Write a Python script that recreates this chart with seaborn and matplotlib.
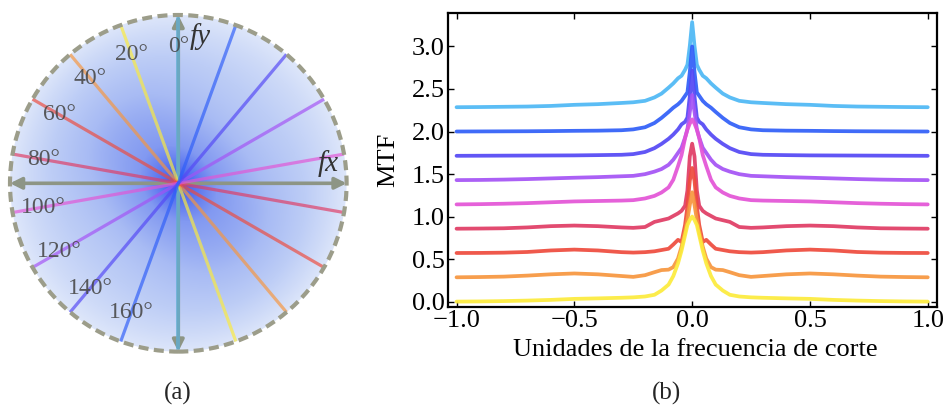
import numpy as np
import pandas as pd
import matplotlib
matplotlib.use("Agg")
import matplotlib.pyplot as plt
from matplotlib.patches import Circle, FancyArrowPatch
from matplotlib.colors import LinearSegmentedColormap
import seaborn as sns

# ---------------- data ----------------
angles = [0, 20, 40, 60, 80, 100, 120, 140, 160]          # cut directions (deg)
angle_labels = ["0°", "20°", "40°", "60°", "80°", "100°", "120°", "140°", "160°"]
colors = {0: "#4DB8F5", 20: "#FCEB3C", 40: "#F7963E", 60: "#EE4B3D", 80: "#E03C64",
          100: "#E354D6", 120: "#A452F5", 140: "#5448F5", 160: "#2F5EF8"}
stack_order = [20, 40, 60, 80, 100, 120, 140, 160, 0]      # bottom -> top
offset_step = 2.0 / 7.0

# half profile frequencies (units of cutoff) and normalised MTF for each cut
freq_half = [0.0, 0.01, 0.02, 0.03, 0.045, 0.06, 0.08, 0.10, 0.13, 0.16,
             0.20, 0.25, 0.30, 0.40, 0.50, 0.60, 0.70, 0.80, 0.90, 1.00]
mtf_0 = [1.0, 0.72, 0.50, 0.44, 0.37, 0.34, 0.28, 0.23, 0.16, 0.115,
         0.075, 0.058, 0.05, 0.036, 0.028, 0.015, 0.008, 0.005, 0.002, 0.0]
mtf_20 = [1.0, 0.96, 0.90, 0.78, 0.60, 0.45, 0.30, 0.20, 0.13, 0.08,
          0.06, 0.05, 0.045, 0.038, 0.032, 0.02, 0.012, 0.006, 0.002, 0.0]
mtf_40 = [1.0, 0.85, 0.68, 0.54, 0.36, 0.22, 0.12, 0.09, 0.085, 0.06,
          0.025, 0.005, 0.015, 0.035, 0.045, 0.035, 0.02, 0.008, 0.003, 0.0]
mtf_60 = [1.0, 0.85, 0.55, 0.33, 0.13, 0.155, 0.10, 0.05, 0.035, 0.02,
          0.01, 0.005, 0.01, 0.03, 0.04, 0.03, 0.012, 0.004, 0.001, 0.0]
mtf_80 = [1.0, 0.85, 0.45, 0.27, 0.21, 0.18, 0.15, 0.12, 0.10, 0.08,
          0.02, 0.01, 0.015, 0.03, 0.037, 0.03, 0.015, 0.005, 0.002, 0.0]
mtf_100 = [1.0, 0.95, 0.88, 0.78, 0.58, 0.45, 0.29, 0.20, 0.14, 0.10,
           0.07, 0.05, 0.045, 0.04, 0.035, 0.025, 0.015, 0.008, 0.003, 0.0]
mtf_120 = [1.0, 0.80, 0.60, 0.50, 0.38, 0.32, 0.24, 0.18, 0.13, 0.10,
           0.07, 0.05, 0.045, 0.035, 0.028, 0.02, 0.012, 0.006, 0.002, 0.0]
mtf_140 = [1.0, 0.70, 0.45, 0.40, 0.37, 0.31, 0.25, 0.20, 0.14, 0.09,
           0.045, 0.02, 0.012, 0.008, 0.005, 0.004, 0.003, 0.002, 0.001, 0.0]
mtf_160 = [1.0, 0.70, 0.46, 0.42, 0.36, 0.32, 0.28, 0.23, 0.16, 0.10,
           0.05, 0.025, 0.015, 0.01, 0.008, 0.005, 0.003, 0.002, 0.001, 0.0]
mtf = {0: mtf_0, 20: mtf_20, 40: mtf_40, 60: mtf_60, 80: mtf_80,
       100: mtf_100, 120: mtf_120, 140: mtf_140, 160: mtf_160}

xticks = [-1.0, -0.5, 0.0, 0.5, 1.0]
yticks = [0.0, 0.5, 1.0, 1.5, 2.0, 2.5, 3.0]

# ---------------- style ----------------
sns.set_theme(style="white")
plt.rcParams["font.family"] = ["Liberation Serif", "DejaVu Serif"]

W, H = 946, 409
fig = plt.figure(figsize=(W / 100, H / 100), dpi=100)

# ---------------- panel (a) ----------------
cx, cy, R = 178.3, 183.3, 168.3
half = 175.0
L = half / R
axa = fig.add_axes([(cx - half) / W, 1 - (cy + half) / H, 2 * half / W, 2 * half / H])
axa.set_xlim(-L, L)
axa.set_ylim(-L, L)
axa.axis("off")

g = np.linspace(-1, 1, 401)
GX, GY = np.meshgrid(g, g)
RR = np.hypot(GX, GY)
TH = np.arctan2(GY, GX)
field = RR + 0.10 * np.sin(2 * TH) * np.exp(-((RR - 0.55) / 0.28) ** 2)
bg_cmap = LinearSegmentedColormap.from_list(
    "bg", [(0.0, "#2E48EE"), (0.07, "#4E6AF0"), (0.22, "#8299F1"),
           (0.5, "#A8BBF4"), (0.75, "#BDCDF6"), (0.9, "#CFDBF8"), (1.0, "#DDE6FA")])
im = axa.imshow(np.clip(field, 0, 1), cmap=bg_cmap, vmin=0, vmax=1,
                extent=(-1, 1, -1, 1), origin="lower", interpolation="bilinear", zorder=0)
clip = Circle((0, 0), 1.0, transform=axa.transData)
im.set_clip_path(clip)

gray = "#8D9585"
for (p0, p1) in [((-1, 0), (1, 0)), ((0, -1), (0, 1))]:
    arr = FancyArrowPatch(p0, p1, arrowstyle="<|-|>", mutation_scale=17,
                          color=gray, lw=2.6, shrinkA=0, shrinkB=0, zorder=2)
    axa.add_patch(arr)

for a in angles:
    t = np.deg2rad(a)
    dx, dy = -np.sin(t), np.cos(t)
    axa.plot([-dx, dx], [-dy, dy], color=colors[a], lw=2.3 if a else 2.8,
             alpha=0.68 if a else 0.55, solid_capstyle="butt", zorder=3)

r_lab = 0.815
for a, lab in zip(angles, angle_labels):
    t = np.deg2rad(a)
    axa.text(-np.sin(t) * r_lab, np.cos(t) * r_lab, lab, fontsize=17, color="#4A4A4A",
             ha="center", va="center", zorder=5, alpha=0.9)

axa.text(0.89, 0.115, "fx", fontsize=21, style="italic", color="#333333",
         ha="center", va="center", zorder=5)
axa.text(0.13, 0.875, "fy", fontsize=21, style="italic", color="#333333",
         ha="center", va="center", zorder=5)

axa.add_patch(Circle((0, 0), 1.0, fill=False, edgecolor="#9C9D8A", lw=3.0,
                     linestyle=(0, (2.4, 1.3)), zorder=6))

# ---------------- panel (b) ----------------
x0, x1 = 448.3, 936.7
y0, y1 = 13.3, 306.7
axb = fig.add_axes([x0 / W, 1 - y1 / H, (x1 - x0) / W, (y1 - y0) / H])

freq_full = np.concatenate([-np.array(freq_half[::-1]), np.array(freq_half[1:])])
for i, a in reversed(list(enumerate(stack_order))):
    prof = np.array(mtf[a])
    vals = np.concatenate([prof[::-1], prof[1:]]) + i * offset_step
    df = pd.DataFrame({"f": freq_full, "m": vals})
    sns.lineplot(data=df, x="f", y="m", color=colors[a], lw=2.7, alpha=0.92,
                 sort=False, estimator=None, ax=axb)

axb.set_xlim(-1.035, 1.038)
axb.set_ylim(-0.06, 3.39)
axb.set_xticks(xticks)
axb.set_yticks(yticks)
axb.set_xticklabels([f"{v:.1f}".replace("-", "\u2212") for v in xticks])
axb.set_yticklabels([f"{v:.1f}" for v in yticks])
axb.tick_params(axis="both", which="major", direction="in", length=4, width=1,
                labelsize=19, pad=2.5, top=True, right=True, bottom=True, left=True,
                labelcolor="black", color="black")
for s in axb.spines.values():
    s.set_visible(True)
    s.set_color("black")
    s.set_linewidth(1.6)
axb.set_xlabel("Unidades de la frecuencia de corte", fontsize=19, color="black")
axb.set_ylabel("MTF", fontsize=19, color="black")
axb.xaxis.set_label_coords(0.505, -0.11)
axb.yaxis.set_label_coords(-0.1, 0.5)
axb.grid(False)

fig.text(178 / W, 1 - 393 / H, "(a)", fontsize=18, ha="center", va="center")
fig.text(666 / W, 1 - 393 / H, "(b)", fontsize=18, ha="center", va="center")

fig.savefig("out.png", dpi=100, facecolor="white")
